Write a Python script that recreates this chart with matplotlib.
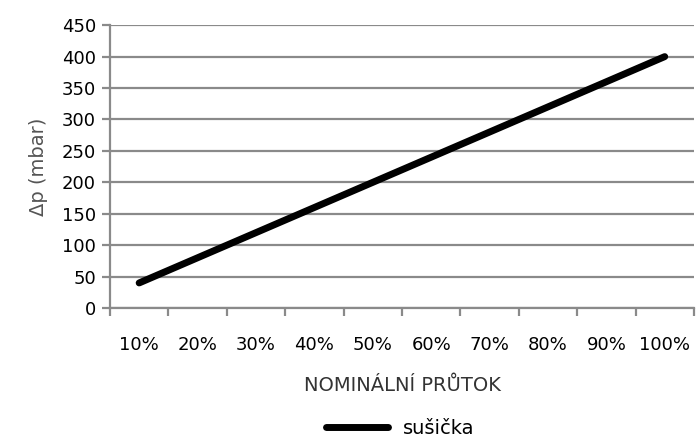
import numpy as np
import matplotlib.pyplot as plt

kategorie = ["10%", "20%", "30%", "40%", "50%", "60%", "70%", "80%", "90%", "100%"]
susicka = [40, 80, 120, 160, 200, 240, 280, 320, 360, 400]

plt.rcParams['font.family'] = ['DejaVu Sans']
seda = "#8a8a8a"

fig = plt.figure(figsize=(6.96, 4.42), dpi=100)
ax = fig.add_axes([0.158, 0.303, 0.839, 0.640])

x = np.arange(1, len(kategorie) + 1)
ax.plot(x, susicka, color="black", lw=5, solid_capstyle="round", label="sušička")

ax.set_xlim(0.5, len(kategorie) + 0.5)
ax.set_ylim(0, 450)
ax.set_yticks(np.arange(0, 451, 50))
ax.yaxis.grid(True, color=seda, lw=1.6)
ax.set_axisbelow(True)

# hranice kategorii jako hlavni ticky, popisky na minor
ax.set_xticks(np.arange(0.5, len(kategorie) + 1, 1))
ax.set_xticklabels([])
ax.set_xticks(x, minor=True)
ax.set_xticklabels(kategorie, minor=True)
ax.tick_params(axis="x", which="major", length=6, width=1.6, color=seda, direction="out")
ax.tick_params(axis="x", which="minor", length=0, pad=20, labelsize=13)
ax.tick_params(axis="y", length=6, width=1.6, color=seda, labelsize=13, pad=4)

for s in ["top", "right"]:
    ax.spines[s].set_visible(False)
for s in ["left", "bottom"]:
    ax.spines[s].set_color(seda)
    ax.spines[s].set_linewidth(1.6)

ax.set_ylabel("Δp (mbar)", fontsize=14, color="#555555", labelpad=10)
ax.set_xlabel("NOMINÁLNÍ PRŮTOK", fontsize=14, color="#333333", labelpad=16)

fig.legend(loc="lower center", bbox_to_anchor=(0.575, -0.03), frameon=False,
           fontsize=14, handlelength=3.2)

fig.savefig("out.png", dpi=100)
